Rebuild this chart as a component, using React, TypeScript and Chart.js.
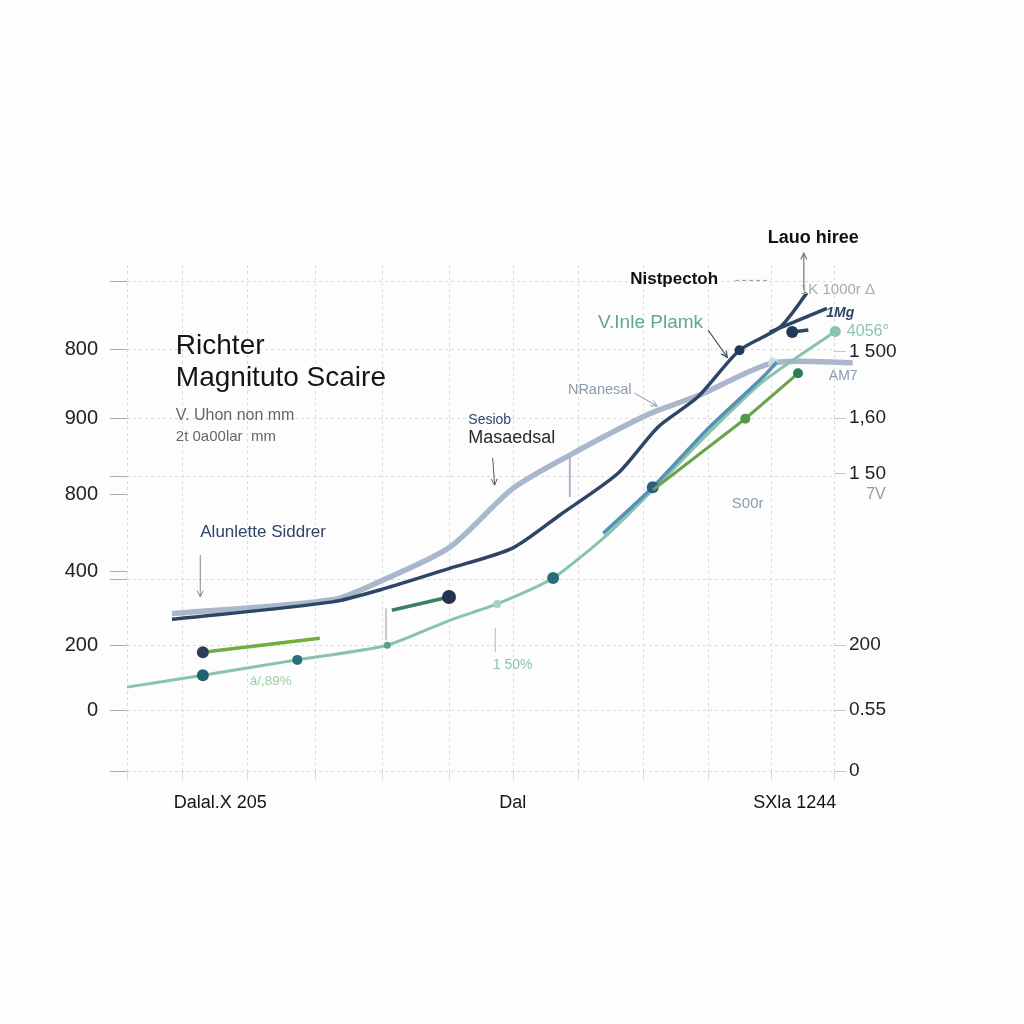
import { useEffect, useRef } from 'react';
import { Chart, registerables } from 'chart.js';

Chart.register(...registerables);

type Pt = { x: number; y: number };

const FONT = '"Liberation Sans", Arial, sans-serif';

// grid slots along the bottom (unitless) and the three captions under them
const X_GRID = [0, 0.87, 1.88, 2.94, 3.98, 5.01, 6.02, 7.02, 8.03, 9.04, 10.02, 11];
const X_CAPTION_POS = [1.45, 6.0, 10.39];
const X_CAPTIONS = ['Dalal.X 205', 'Dal', 'SXla 1244'];

// horizontal grid rows and the (garbled) labels on both sides
const Y_GRID = [0, 0.87, 1.8, 2.74, 4.22, 5.05, 6.03, 7];
const Y_LEFT_POS = [0.87, 1.8, 2.86, 3.95, 5.05, 6.03];
const Y_LEFT_LABELS = ['0', '200', '400', '800', '900', '800'];
const Y_RIGHT_POS = [0, 0.87, 1.8, 4.26, 5.05, 6.0];
const Y_RIGHT_LABELS = ['0', '0.55', '200', '1 50', '1,60', '1 500'];

// series
const nranesal: Pt[] = [
    { x: 0.7, y: 2.25 }, { x: 3.2, y: 2.45 }, { x: 3.98, y: 2.73 }, { x: 5.02, y: 3.2 },
    { x: 6.0, y: 4.04 }, { x: 6.89, y: 4.52 }, { x: 8.13, y: 5.11 }, { x: 8.91, y: 5.38 },
    { x: 10.05, y: 5.84 }, { x: 11.29, y: 5.84 },
];
const seismic: Pt[] = [
    { x: 0.7, y: 2.17 }, { x: 3.2, y: 2.42 }, { x: 4.04, y: 2.62 }, { x: 5.02, y: 2.9 },
    { x: 6.0, y: 3.19 }, { x: 6.73, y: 3.66 }, { x: 7.64, y: 4.26 }, { x: 8.26, y: 4.92 },
    { x: 8.88, y: 5.35 }, { x: 9.53, y: 6.02 }, { x: 10.16, y: 6.35 }, { x: 10.58, y: 6.84 },
];
const seismicBranch: Pt[] = [{ x: 10.0, y: 6.28 }, { x: 10.89, y: 6.62 }];
const seismicTail: Pt[] = [{ x: 10.35, y: 6.28 }, { x: 10.6, y: 6.31 }];
const plamk: Pt[] = [
    { x: 0, y: 1.2 }, { x: 1.18, y: 1.37 }, { x: 2.65, y: 1.59 }, { x: 4.05, y: 1.8 },
    { x: 5.03, y: 2.16 }, { x: 5.76, y: 2.39 }, { x: 6.63, y: 2.76 }, { x: 7.47, y: 3.38 },
    { x: 8.18, y: 4.02 }, { x: 9.02, y: 4.81 }, { x: 9.85, y: 5.54 }, { x: 10.36, y: 5.88 },
    { x: 11.02, y: 6.29 },
];
const blueLine: Pt[] = [
    { x: 7.41, y: 3.4 }, { x: 8.18, y: 4.06 }, { x: 9.02, y: 4.88 }, { x: 9.9, y: 5.64 }, { x: 10.11, y: 5.85 },
];
const greenLine: Pt[] = [{ x: 8.18, y: 4.02 }, { x: 9.62, y: 5.04 }, { x: 10.44, y: 5.69 }];
const sidrerShort: Pt[] = [{ x: 1.18, y: 1.7 }, { x: 3.0, y: 1.9 }];
const darkShort: Pt[] = [{ x: 4.12, y: 2.3 }, { x: 5.01, y: 2.49 }];

// annotation texts
const NOTES = [
    { t: 'Richter', x: 0.76, y: 6.07, size: 28, color: '#151515', weight: '400', style: '' },
    { t: 'Magnituto Scaire', x: 0.76, y: 5.62, size: 28, color: '#151515', weight: '400', style: '' },
    { t: 'V. Uhon non mm', x: 0.76, y: 5.09, size: 16, color: '#666', weight: '400', style: '' },
    { t: '2t 0a00lar  mm', x: 0.76, y: 4.78, size: 15, color: '#666', weight: '400', style: '' },
    { t: 'Sesiob', x: 5.31, y: 5.02, size: 14, color: '#2f4a70', weight: '400', style: '' },
    { t: 'Masaedsal', x: 5.31, y: 4.76, size: 18, color: '#2a2a2a', weight: '400', style: '' },
    { t: 'NRanesal', x: 6.86, y: 5.45, size: 14.5, color: '#8a9bb0', weight: '400', style: '' },
    { t: 'V.Inle Plamk', x: 7.33, y: 6.41, size: 19, color: '#5fa88c', weight: '400', style: '' },
    { t: 'Nistpectoh', x: 7.83, y: 7.04, size: 17, color: '#111', weight: '700', style: '' },
    { t: 'Lauo hiree', x: 9.97, y: 7.63, size: 18, color: '#111', weight: '700', style: '' },
    { t: '1K 1000r Δ', x: 10.47, y: 6.88, size: 15, color: '#aaa', weight: '400', style: '' },
    { t: '1Mg', x: 10.88, y: 6.55, size: 14, color: '#2e4566', weight: '700', style: 'italic' },
    { t: '4056°', x: 11.2, y: 6.29, size: 16, color: '#8cc5ab', weight: '400', style: '' },
    { t: 'AM7', x: 10.92, y: 5.65, size: 14, color: '#8a9bb0', weight: '400', style: '' },
    { t: 'S00r', x: 9.41, y: 3.82, size: 15, color: '#8a9bb0', weight: '400', style: '' },
    { t: '7V', x: 11.5, y: 3.96, size: 16, color: '#999', weight: '400', style: '' },
    { t: 'Alunlette Siddrer', x: 1.14, y: 3.42, size: 17, color: '#2e4566', weight: '400', style: '' },
    { t: 'á/,89%', x: 1.91, y: 1.29, size: 13.5, color: '#9fcfa0', weight: '400', style: '' },
    { t: '1 50%', x: 5.69, y: 1.52, size: 14, color: '#8cc5ab', weight: '400', style: '' },
];

// pointer lines and arrows
const POINTERS = [
    { x1: 1.14, y1: 3.09, x2: 1.14, y2: 2.49, color: '#888', width: 1, head: true, dash: [] as number[] },
    { x1: 5.69, y1: 4.48, x2: 5.72, y2: 4.09, color: '#556', width: 1, head: true, dash: [] as number[] },
    { x1: 7.89, y1: 5.41, x2: 8.25, y2: 5.22, color: '#8a9bb0', width: 1, head: true, dash: [] as number[] },
    { x1: 9.04, y1: 6.31, x2: 9.34, y2: 5.92, color: '#3a4a60', width: 1.2, head: true, dash: [] as number[] },
    { x1: 9.46, y1: 7.02, x2: 10.0, y2: 7.02, color: '#999', width: 1, head: false, dash: [4, 3] },
    { x1: 10.53, y1: 6.88, x2: 10.53, y2: 7.41, color: '#777', width: 1.2, head: true, dash: [] as number[] },
    { x1: 4.03, y1: 2.33, x2: 4.03, y2: 1.87, color: '#aaa', width: 1.2, head: false, dash: [] as number[] },
    { x1: 6.89, y1: 4.52, x2: 6.89, y2: 3.92, color: '#a8b7c9', width: 2, head: false, dash: [] as number[] },
    { x1: 5.73, y1: 2.05, x2: 5.73, y2: 1.7, color: '#bbb', width: 1, head: false, dash: [] as number[] },
];

const near = (a: number, b: number) => Math.abs(a - b) < 0.005;
const uniqSorted = (arr: number[]) =>
    arr.filter((v, i) => arr.findIndex((w) => near(w, v)) === i).sort((a, b) => a - b);

const notesPlugin = {
    id: 'notes',
    afterDatasetsDraw(chart: any) {
        const { ctx, scales } = chart;
        const sx = scales.x;
        const sy = scales.y;
        ctx.save();
        for (const p of POINTERS) {
            const ax = sx.getPixelForValue(p.x1);
            const ay = sy.getPixelForValue(p.y1);
            const bx = sx.getPixelForValue(p.x2);
            const by = sy.getPixelForValue(p.y2);
            ctx.strokeStyle = p.color;
            ctx.lineWidth = p.width;
            ctx.setLineDash(p.dash);
            ctx.beginPath();
            ctx.moveTo(ax, ay);
            ctx.lineTo(bx, by);
            ctx.stroke();
            ctx.setLineDash([]);
            if (p.head) {
                const ang = Math.atan2(by - ay, bx - ax);
                ctx.beginPath();
                ctx.moveTo(bx - 7 * Math.cos(ang - 0.45), by - 7 * Math.sin(ang - 0.45));
                ctx.lineTo(bx, by);
                ctx.lineTo(bx - 7 * Math.cos(ang + 0.45), by - 7 * Math.sin(ang + 0.45));
                ctx.stroke();
            }
        }
        ctx.textBaseline = 'middle';
        ctx.textAlign = 'left';
        for (const n of NOTES) {
            ctx.font = `${n.style} ${n.weight} ${n.size}px ${FONT}`;
            ctx.fillStyle = n.color;
            ctx.fillText(n.t, sx.getPixelForValue(n.x), sy.getPixelForValue(n.y));
        }
        ctx.restore();
    },
};

export default function App() {
    const canvasRef = useRef<HTMLCanvasElement>(null);
    const chartRef = useRef<Chart | null>(null);

    useEffect(() => {
        if (!canvasRef.current) return;
        if (chartRef.current) chartRef.current.destroy();

        const xTicks = uniqSorted([...X_GRID, ...X_CAPTION_POS]);
        const yLeftTicks = uniqSorted([...Y_GRID, ...Y_LEFT_POS]);
        const gridColor = '#d9dcdf';

        const xLabel = (v: number) => {
            const i = X_CAPTION_POS.findIndex((p) => near(p, v));
            return i >= 0 ? X_CAPTIONS[i] : '';
        };
        const leftLabel = (v: number) => {
            const i = Y_LEFT_POS.findIndex((p) => near(p, v));
            return i >= 0 ? Y_LEFT_LABELS[i] : '';
        };
        const rightLabel = (v: number) => {
            const i = Y_RIGHT_POS.findIndex((p) => near(p, v));
            return i >= 0 ? Y_RIGHT_LABELS[i] : '';
        };
        const onGrid = (list: number[], v: number) => list.some((p) => near(p, v));

        chartRef.current = new Chart(canvasRef.current, {
            type: 'line',
            data: {
                datasets: [
                    {
                        data: seismicTail, borderColor: '#2e4566', borderWidth: 3.5,
                        pointRadius: [6, 0], pointBackgroundColor: '#24395a', pointBorderWidth: 0,
                    },
                    {
                        data: seismicBranch, borderColor: '#2e4566', borderWidth: 3.5, pointRadius: 0,
                    },
                    {
                        data: greenLine, borderColor: '#68a34e', borderWidth: 3,
                        pointRadius: [0, 5, 5], pointBackgroundColor: ['#68a34e', '#4f9a45', '#2f7a5a'], pointBorderWidth: 0,
                    },
                    {
                        data: blueLine, borderColor: '#5792b5', borderWidth: 3.5, tension: 0.2,
                        pointRadius: [0, 6, 0, 0, 0], pointBackgroundColor: '#2e5a86', pointBorderWidth: 0,
                    },
                    {
                        data: plamk, borderColor: '#88c4ab', borderWidth: 3, tension: 0.2, clip: false,
                        pointRadius: [0, 6, 5, 3.5, 0, 4, 6, 0, 0, 0, 0, 0, 5.5],
                        pointBackgroundColor: ['#2a6f78', '#1f6470', '#2a6f78', '#5a9e8e', '#88c4ab', '#a9d3c0', '#2a6f78', '#88c4ab', '#88c4ab', '#88c4ab', '#88c4ab', '#88c4ab', '#88c4ab'],
                        pointBorderWidth: 0,
                    },
                    {
                        data: seismic, borderColor: '#2e4566', borderWidth: 3.5, tension: 0.25,
                        pointRadius: [0, 0, 0, 0, 0, 0, 0, 0, 0, 5, 0, 0], pointBackgroundColor: '#24395a', pointBorderWidth: 0,
                    },
                    {
                        data: nranesal, borderColor: '#a8b7c9', borderWidth: 5.5, tension: 0.25, clip: false,
                        pointRadius: [0, 0, 0, 0, 0, 0, 0, 0, 5, 0], pointBackgroundColor: '#c9dbe4', pointBorderWidth: 0,
                    },
                    {
                        data: sidrerShort, borderColor: '#73ad3f', borderWidth: 3.5,
                        pointRadius: [6, 0], pointBackgroundColor: '#2f3e56', pointBorderWidth: 0,
                    },
                    {
                        data: darkShort, borderColor: '#3d7c66', borderWidth: 3.5,
                        pointRadius: [0, 7], pointBackgroundColor: '#22344f', pointBorderWidth: 0,
                    },
                ],
            },
            options: {
                responsive: true,
                maintainAspectRatio: false,
                animation: false,
                layout: { padding: { top: 265 } },
                plugins: { legend: { display: false }, tooltip: { enabled: false } },
                scales: {
                    x: {
                        type: 'linear',
                        min: 0,
                        max: 11,
                        afterBuildTicks: (s: any) => { s.ticks = xTicks.map((v) => ({ value: v })); },
                        afterFit: (s: any) => { s.height = 253; },
                        border: { display: false, dash: [3, 3] },
                        grid: {
                            color: (c: any) => (c.tick && onGrid(X_GRID, c.tick.value) ? gridColor : 'rgba(0,0,0,0)'),
                            tickColor: (c: any) => (c.tick && onGrid(X_GRID, c.tick.value) ? gridColor : 'rgba(0,0,0,0)'),
                            tickLength: 9,
                            lineWidth: 1,
                        },
                        ticks: {
                            autoSkip: false,
                            maxRotation: 0,
                            padding: 12,
                            color: '#141414',
                            font: { family: FONT, size: 18 },
                            callback: (v: any) => xLabel(Number(v)),
                        },
                    },
                    y: {
                        type: 'linear',
                        position: 'left',
                        min: 0,
                        max: 7.24,
                        afterBuildTicks: (s: any) => { s.ticks = yLeftTicks.map((v) => ({ value: v })); },
                        afterFit: (s: any) => { s.width = 127; },
                        border: { display: false, dash: [3, 3] },
                        grid: {
                            color: (c: any) => (c.tick && onGrid(Y_GRID, c.tick.value) ? gridColor : 'rgba(0,0,0,0)'),
                            tickColor: '#a9adb2',
                            tickLength: 17,
                        },
                        ticks: {
                            autoSkip: false,
                            padding: 12,
                            color: '#222',
                            font: { family: FONT, size: 20 },
                            callback: (v: any) => leftLabel(Number(v)),
                        },
                    },
                    y2: {
                        type: 'linear',
                        position: 'right',
                        min: 0,
                        max: 7.24,
                        afterBuildTicks: (s: any) => { s.ticks = Y_RIGHT_POS.map((v) => ({ value: v })); },
                        afterFit: (s: any) => { s.width = 190; },
                        border: { display: false },
                        grid: { drawOnChartArea: false, tickColor: '#c4c8cc', tickLength: 12 },
                        ticks: {
                            autoSkip: false,
                            padding: 3,
                            color: '#222',
                            font: { family: FONT, size: 19 },
                            callback: (v: any) => rightLabel(Number(v)),
                        },
                    },
                },
            },
            plugins: [notesPlugin],
        });

        return () => {
            if (chartRef.current) {
                chartRef.current.destroy();
                chartRef.current = null;
            }
        };
    }, []);

    return (
        <div style={{ position: 'absolute', left: 0, top: 0, width: 1024, height: 1024, background: '#fdfdfd' }}>
            <canvas ref={canvasRef}></canvas>
        </div>
    );
}
